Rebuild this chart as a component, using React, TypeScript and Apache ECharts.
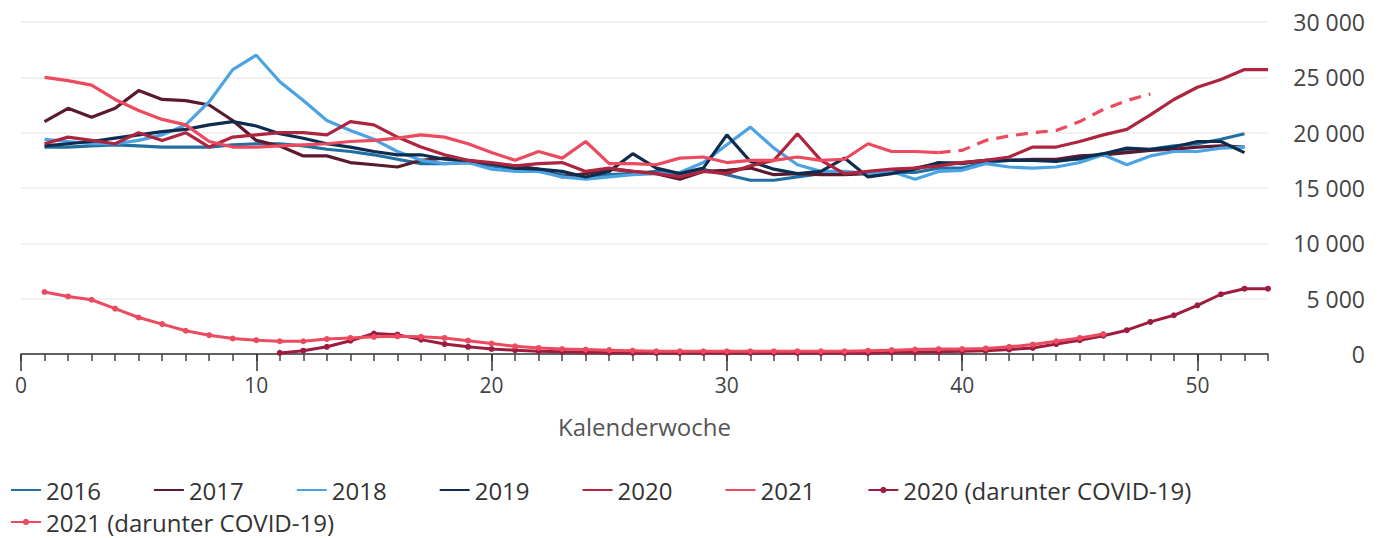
import React, { useEffect, useRef } from "react";
import * as echarts from "echarts";

const weeks: string[] = Array.from({ length: 54 }, (_, i) => String(i));

// Weekly deaths, starting at week 1
const d2016 = [18700, 18700, 18800, 18900, 18800, 18700, 18700, 18700, 18900, 19000, 19000, 18800, 18500, 18300, 18000, 17600, 17200, 17200, 17300, 17000, 16700, 16500, 16200, 15900, 16200, 16300, 16500, 16300, 16700, 16200, 15700, 15700, 16000, 16300, 16400, 16300, 16400, 16400, 16800, 16800, 17300, 17500, 17500, 17500, 17600, 18000, 18400, 18500, 18800, 19000, 19400, 19900];
const d2017 = [21000, 22200, 21400, 22200, 23800, 23000, 22900, 22500, 21100, 19300, 18800, 17900, 17900, 17300, 17100, 16900, 17500, 17700, 17400, 17200, 17000, 16700, 16000, 16300, 16700, 16500, 16300, 15800, 16500, 16600, 16800, 16200, 16300, 16200, 16200, 16300, 16500, 16800, 17200, 17300, 17500, 17500, 17600, 17600, 17900, 18000, 18200, 18400, 18500, 18700, 18800, 18700];
const d2018 = [19400, 19200, 19000, 19000, 19300, 19800, 20700, 22800, 25700, 27000, 24600, 22900, 21100, 20200, 19400, 18300, 17500, 17200, 17300, 16700, 16500, 16500, 16000, 15800, 16000, 16200, 16300, 16400, 17300, 18900, 20500, 18600, 17100, 16500, 16500, 16300, 16500, 15800, 16500, 16600, 17200, 16900, 16800, 16900, 17300, 18000, 17100, 17900, 18300, 18300, 18600, 18700];
const d2019 = [18800, 19000, 19200, 19500, 19800, 20100, 20300, 20700, 21000, 20600, 19900, 19500, 19000, 18700, 18300, 18000, 18000, 17600, 17500, 17200, 16800, 16700, 16500, 16000, 16500, 18100, 16800, 16300, 16800, 19800, 17400, 16700, 16300, 16500, 17700, 16000, 16300, 16700, 17300, 17200, 17500, 17500, 17500, 17400, 17700, 18100, 18600, 18500, 18700, 19200, 19200, 18200];
const d2020 = [19000, 19600, 19300, 19000, 20000, 19300, 20000, 18700, 19600, 19800, 20000, 20000, 19800, 21000, 20700, 19600, 18700, 18000, 17500, 17300, 17000, 17200, 17300, 16500, 16800, 16500, 16300, 16000, 16500, 16300, 17000, 17500, 19900, 17500, 16300, 16500, 16700, 16800, 17000, 17300, 17500, 17800, 18700, 18700, 19200, 19800, 20300, 21600, 23000, 24100, 24800, 25700, 25700];
const d2021 = [25000, 24700, 24300, 23000, 22000, 21200, 20700, 19200, 18700, 18700, 18800, 18900, 19000, 19200, 19300, 19500, 19800, 19600, 19000, 18200, 17500, 18300, 17700, 19200, 17200, 17200, 17100, 17700, 17800, 17300, 17500, 17500, 17800, 17500, 17600, 19000, 18300, 18300, 18200];
// 2021 estimate (dashed), starting at week 39
const d2021est = [18200, 18400, 19300, 19700, 20000, 20200, 21000, 22100, 22900, 23500];
// COVID-19 deaths, 2020 from week 11, 2021 from week 1
const c2020 = [100, 300, 650, 1200, 1850, 1750, 1300, 900, 650, 450, 350, 250, 200, 150, 120, 100, 100, 100, 100, 100, 100, 100, 100, 100, 100, 100, 150, 150, 200, 250, 300, 400, 550, 900, 1250, 1650, 2150, 2900, 3500, 4400, 5400, 5900, 5900];
const c2021 = [5600, 5200, 4900, 4100, 3300, 2700, 2100, 1700, 1400, 1250, 1150, 1150, 1350, 1450, 1550, 1600, 1550, 1450, 1200, 950, 700, 550, 450, 400, 350, 300, 250, 250, 250, 250, 250, 250, 250, 250, 250, 300, 350, 400, 450, 450, 500, 650, 850, 1150, 1450, 1800];

const xTickLabels = ["0", "10", "20", "30", "40", "50"];
const yearNames = ["2016", "2017", "2018", "2019", "2020", "2021"];

const FONT = "'Open Sans', 'Noto Sans', sans-serif";

const pairs = (start: number, arr: number[]) => arr.map((v, i) => [start + i, v]);

const colors = {
  y2016: "#236fa1",
  y2017: "#5b1a2e",
  y2018: "#4ba3e3",
  y2019: "#0e2d4e",
  y2020: "#ae2540",
  y2021: "#ec4a5f",
  c2020: "#9e1c3f",
  c2021: "#ec4a5f",
};

const fmt = (v: number) => String(v).replace(/\B(?=(\d{3})+(?!\d))/g, " ");

export default function App() {
  const ref = useRef<HTMLDivElement>(null);
  useEffect(() => {
    document.body.style.margin = "0";
    if (!ref.current) return;
    const chart = echarts.init(ref.current, undefined, { renderer: "svg" });
    const line = (name: string, data: number[][], color: string, extra: any = {}) => ({
      name,
      type: "line",
      data,
      symbol: "none",
      showSymbol: false,
      color,
      lineStyle: { width: 3.2, color },
      ...extra,
    });
    const covid = (name: string, data: number[][], color: string) => ({
      name,
      type: "line",
      data,
      symbol: "circle",
      symbolSize: 6,
      showSymbol: true,
      color,
      itemStyle: { color },
      lineStyle: { width: 3, color },
      z: 5,
    });
    const legendText = { fontSize: 24, lineHeight: 26, color: "#333", fontFamily: FONT };
    chart.setOption({
      animation: false,
      textStyle: { fontFamily: FONT },
      grid: { left: 21, right: 114, top: 22, bottom: 184 },
      legend: [
        {
          data: [
            ...yearNames.map((n) => ({ name: n, itemStyle: { opacity: 0 } })),
            { name: "2020 (darunter COVID-19)" },
          ],
          left: 10,
          top: 477,
          padding: 0,
          itemWidth: 30,
          itemHeight: 8,
          itemGap: 52,
          textStyle: legendText,
        },
        {
          data: ["2021 (darunter COVID-19)"],
          left: 10,
          top: 509,
          padding: 0,
          itemWidth: 30,
          itemHeight: 8,
          textStyle: legendText,
        },
      ],
      xAxis: [
        {
          type: "category",
          data: weeks,
          boundaryGap: false,
          position: "bottom",
          axisLine: { lineStyle: { color: "#333", width: 1.5 } },
          axisTick: { show: true, interval: 0, length: 7, lineStyle: { color: "#444", width: 1.5 } },
          axisLabel: { show: false },
          splitLine: { show: false },
        },
        {
          type: "category",
          data: weeks,
          boundaryGap: false,
          position: "bottom",
          axisLine: { show: false },
          axisTick: {
            show: true,
            interval: (i: number) => i % 10 === 0,
            length: 17,
            lineStyle: { color: "#333", width: 1.5 },
          },
          axisLabel: {
            interval: (i: number, v: string) => xTickLabels.includes(v),
            margin: 20,
            fontSize: 21,
            color: "#444",
            fontFamily: FONT,
          },
          splitLine: { show: false },
          name: "Kalenderwoche",
          nameLocation: "middle",
          nameGap: 60,
          nameTextStyle: { fontSize: 24, color: "#555", fontFamily: FONT },
        },
      ],
      yAxis: {
        type: "value",
        position: "right",
        min: 0,
        max: 30000,
        interval: 5000,
        axisLine: { show: false },
        axisTick: { show: false },
        splitLine: { lineStyle: { color: "#ececec", width: 1.5 } },
        axisLabel: {
          align: "right",
          margin: 97,
          fontSize: 23,
          color: "#444",
          fontFamily: FONT,
          formatter: (v: number) => fmt(v),
        },
      },
      series: [
        line("2016", pairs(1, d2016), colors.y2016),
        line("2017", pairs(1, d2017), colors.y2017),
        line("2018", pairs(1, d2018), colors.y2018),
        line("2019", pairs(1, d2019), colors.y2019),
        line("2020", pairs(1, d2020), colors.y2020),
        line("2021", pairs(1, d2021), colors.y2021),
        line("2021 (Schätzung)", pairs(39, d2021est), colors.y2021, {
          lineStyle: { width: 3.2, color: colors.y2021, type: [12, 8] },
        }),
        covid("2020 (darunter COVID-19)", pairs(11, c2020), colors.c2020),
        covid("2021 (darunter COVID-19)", pairs(1, c2021), colors.c2021),
      ],
    });
    return () => chart.dispose();
  }, []);
  return <div ref={ref} style={{ width: 1382, height: 538 }} />;
}
